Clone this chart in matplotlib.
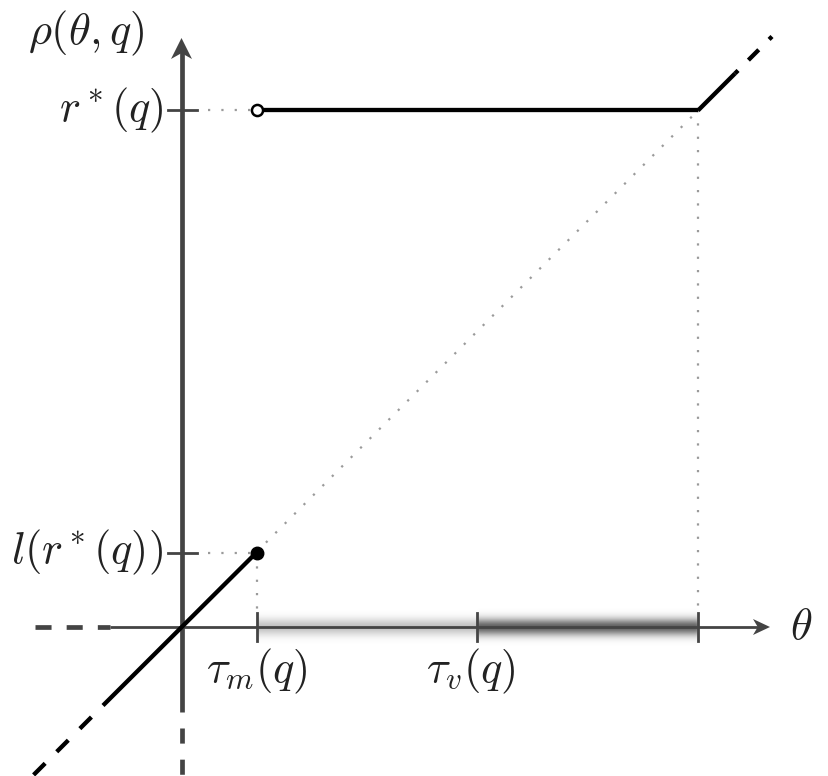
import numpy as np
import matplotlib.pyplot as plt
from matplotlib.patches import Polygon

plt.rcParams['mathtext.fontset'] = 'cm'

# key thresholds on the theta axis (1 unit = 100 px)
tau_m = 0.75
tau_v = 2.955
r_star = 5.165
l_r_star = 0.745

# function rho(theta, q), piece by piece
theta_low = [-0.785, tau_m]
rho_low = [-0.785, l_r_star]
theta_mid = [tau_m, r_star]
rho_mid = [r_star, r_star]
theta_high = [r_star, 5.535]
rho_high = [r_star, 5.535]
# dashed continuations
theta_low_ext = [-0.785, -1.48]
theta_high_ext = [5.535, 5.905]

x_ticks = [tau_m, tau_v, r_star]
x_tick_labels = [r'$\tau_m(q)$', r'$\tau_v(q)$']
y_ticks = [r_star, l_r_star]
y_tick_labels = [r'$r^*(q)$', r'$l(r^*(q))$']

axis_col = '#444444'
dot_col = '#9a9a9a'
txt_col = '#222222'


def arrow_head(ax, tip, direction, length, half_width, notch=0.72):
    d = np.array(direction, float)
    d /= np.linalg.norm(d)
    n = np.array([-d[1], d[0]])
    tip = np.array(tip, float)
    base = tip - length * d
    pts = [tip, base + half_width * n, tip - notch * length * d, base - half_width * n]
    ax.add_patch(Polygon(pts, closed=True, color=axis_col, lw=0, zorder=6))


fig = plt.figure(figsize=(8.29, 7.76), dpi=100)
ax = fig.add_axes([0, 0, 1, 1])

# shaded band along the theta axis
xs = np.linspace(tau_m, r_star, 600)
ys = np.linspace(-0.2, 0.2, 100)
level = 0.24 + 0.38 * (0.5 + 0.5 * np.tanh((xs - tau_v) / 0.01))
level *= 0.5 + 0.5 * np.tanh((r_star - xs) / 0.015)
profile = np.exp(-(ys / 0.085) ** 2)
rgba = np.zeros((len(ys), len(xs), 4))
rgba[..., 3] = profile[:, None] * level[None, :]
ax.imshow(rgba, extent=[tau_m, r_star, -0.2, 0.2], origin='lower',
          aspect='auto', interpolation='bilinear', zorder=1)

# axes
ax.plot([-0.715, 5.8], [0, 0], color=axis_col, lw=2.0, zorder=4, solid_capstyle='butt')
ax.plot([-1.465, -0.715], [0, 0], color=axis_col, lw=3.4, zorder=4,
        linestyle=(0, (3.4, 3.2)), dash_capstyle='butt')
ax.plot([0, 0], [-0.85, 5.75], color=axis_col, lw=3.4, zorder=4, solid_capstyle='butt')
ax.plot([0, 0], [-1.01, -1.6], color=axis_col, lw=3.4, zorder=4,
        linestyle=(0, (3.2, 3.4)), dash_capstyle='butt')
arrow_head(ax, (5.885, 0), (1, 0), 0.17, 0.08)
arrow_head(ax, (0, 5.89), (0, 1), 0.21, 0.105)

# ticks
for x in x_ticks:
    ax.plot([x, x], [-0.14, 0.14], color=axis_col, lw=2.0, zorder=5)
for y in y_ticks:
    ax.plot([-0.14, 0.15], [y, y], color=axis_col, lw=2.0, zorder=5)

# dotted guides
dots = dict(color=dot_col, lw=1.6, linestyle=(0, (1, 5)), zorder=2)
ax.plot([0.26, tau_m], [r_star, r_star], **dots)
ax.plot([0.26, tau_m], [l_r_star, l_r_star], **dots)
ax.plot([tau_m, tau_m], [l_r_star, 0.16], **dots)
ax.plot([r_star, r_star], [r_star, 0.16], **dots)
ax.plot([tau_m, r_star], [tau_m, r_star], **dots)

# the function
ax.plot(theta_low, rho_low, color='black', lw=3.1, zorder=7, solid_capstyle='butt')
ax.plot(theta_mid, rho_mid, color='black', lw=3.1, zorder=7, solid_capstyle='butt')
ax.plot(theta_high, rho_high, color='black', lw=3.1, zorder=7, solid_capstyle='butt')
ax.plot(theta_low_ext, theta_low_ext, color='black', lw=3.1, zorder=7,
        linestyle=(3.8, (3.8, 3.8)), dash_capstyle='butt')
ax.plot(theta_high_ext, theta_high_ext, color='black', lw=3.1, zorder=7,
        linestyle=(2.4, (3.4, 3.4)), dash_capstyle='butt')
ax.plot([tau_m], [r_star], 'o', ms=8, mfc='white', mec='black', mew=1.8, zorder=8)
ax.plot([tau_m], [l_r_star], 'o', ms=9, mfc='black', mec='black', zorder=8)

# labels
fs = 32
ax.text(-1.535, 5.94, r'$\rho(\theta, q)$', fontsize=fs, color=txt_col,
        ha='left', va='center')
for y, lab in zip(y_ticks, y_tick_labels):
    ax.text(-0.185, y, lab, fontsize=fs, color=txt_col, ha='right', va='center')
ax.text(tau_m, -0.44, x_tick_labels[0], fontsize=fs, color=txt_col, ha='center', va='center')
ax.text(tau_v - 0.06, -0.44, x_tick_labels[1], fontsize=fs, color=txt_col, ha='center', va='center')
ax.text(6.085, 0.0, r'$\theta$', fontsize=fs, color=txt_col, ha='left', va='center')

ax.set_xlim(-1.815, 6.475)
ax.set_ylim(-1.49, 6.27)
ax.axis('off')

fig.savefig('out.png', dpi=100)
